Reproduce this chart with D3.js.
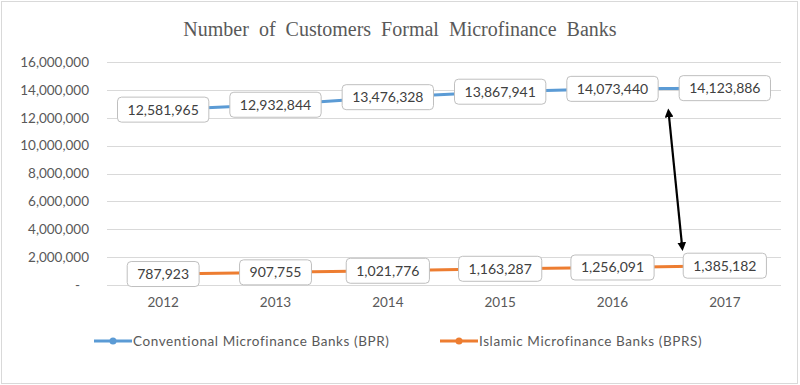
<!DOCTYPE html>
<html>
<head>
<meta charset="utf-8">
<script src="https://cdn.jsdelivr.net/npm/d3@7"></script>
<style>
  body { margin: 0; background: #fff; }
  svg { display: block; }
</style>
</head>
<body>
<div id="chart"></div>
<script>
// data
const years = ["2012", "2013", "2014", "2015", "2016", "2017"];
const bpr = [12581965, 12932844, 13476328, 13867941, 14073440, 14123886];
const bprs = [787923, 907755, 1021776, 1163287, 1256091, 1385182];
const seriesNames = ["Conventional Microfinance Banks (BPR)", "Islamic Microfinance Banks (BPRS)"];
const yTicks = [0, 2000000, 4000000, 6000000, 8000000, 10000000, 12000000, 14000000, 16000000];
// arrow annotation: [offset from start of 2016 band, in bands; value]
const arrowEnds = [[1.0, 12350000], [1.12, 2750000]];

const width = 800, height = 385;
const margin = { top: 62, right: 19, bottom: 100, left: 107 };

const svg = d3.select("#chart").append("svg")
    .attr("width", width)
    .attr("height", height);

// outer border
svg.append("rect")
    .attr("x", 1.5).attr("y", 1.5)
    .attr("width", width - 4).attr("height", height - 3)
    .attr("fill", "#fff")
    .attr("stroke", "#d9d9d9");

const x = d3.scaleBand()
    .domain(years)
    .range([margin.left, width - margin.right]);

const y = d3.scaleLinear()
    .domain([0, 16000000])
    .range([285, margin.top]);

const cx = d => x(d) + x.bandwidth() / 2;

// title
svg.append("text")
    .attr("x", width / 2)
    .attr("y", 36)
    .attr("text-anchor", "middle")
    .attr("font-family", "'Liberation Serif', serif")
    .attr("font-size", "20px")
    .attr("word-spacing", "5px")
    .attr("fill", "#595959")
    .text("Number of Customers Formal Microfinance Banks");

// gridlines
svg.append("g")
    .selectAll("line")
    .data(yTicks)
    .enter()
    .append("line")
    .attr("x1", margin.left)
    .attr("x2", width - margin.right)
    .attr("y1", d => Math.round(y(d)) + 0.5)
    .attr("y2", d => Math.round(y(d)) + 0.5)
    .attr("stroke", "#d9d9d9")
    .attr("stroke-width", 1);

// y axis labels
const fmt = d3.format(",");
const yAxis = svg.append("g")
    .attr("transform", `translate(${margin.left},0)`)
    .call(d3.axisLeft(y).tickValues(yTicks).tickSize(0).tickPadding(18)
        .tickFormat(d => d === 0 ? "-" : fmt(d)));
yAxis.select(".domain").remove();
yAxis.selectAll("text")
    .attr("font-family", "Lato, sans-serif")
    .attr("font-size", "13.5px")
    .attr("fill", "#595959")
    .attr("dx", d => d === 0 ? -9 : 0);

// x axis labels
const xAxis = svg.append("g")
    .attr("transform", `translate(0,285)`)
    .call(d3.axisBottom(x).tickSize(0).tickPadding(12));
xAxis.select(".domain").remove();
xAxis.selectAll("text")
    .attr("font-family", "Lato, sans-serif")
    .attr("font-size", "13.5px")
    .attr("fill", "#595959");

const colors = ["#5b9bd5", "#ed7d31"];
const series = [bpr, bprs];

const line = d3.line()
    .x((d, i) => cx(years[i]))
    .y(d => y(d));

series.forEach((vals, s) => {
    svg.append("path")
        .datum(vals)
        .attr("d", line)
        .attr("fill", "none")
        .attr("stroke", colors[s])
        .attr("stroke-width", 3)
        .attr("stroke-linecap", "round");

    svg.append("g")
        .selectAll("circle")
        .data(vals)
        .enter()
        .append("circle")
        .attr("cx", (d, i) => cx(years[i]))
        .attr("cy", d => y(d))
        .attr("r", 3.5)
        .attr("fill", colors[s]);
});

// data label boxes
series.forEach((vals, s) => {
    const g = svg.append("g")
        .selectAll("g")
        .data(vals)
        .enter()
        .append("g")
        .attr("transform", (d, i) => `translate(${cx(years[i])},${y(d)})`);

    const rects = g.append("rect")
        .attr("fill", "#fff")
        .attr("stroke", "#bfbfbf")
        .attr("stroke-width", 1)
        .attr("rx", 4);

    const texts = g.append("text")
        .attr("text-anchor", "middle")
        .attr("dy", "0.35em")
        .attr("font-family", "Lato, sans-serif")
        .attr("font-size", "14px")
        .attr("fill", "#404040")
        .text(d => fmt(d));

    texts.each(function (d, i) {
        const w = this.getComputedTextLength() + 20;
        d3.select(rects.nodes()[i])
            .attr("x", -w / 2)
            .attr("y", -12.5)
            .attr("width", w)
            .attr("height", 25);
    });
});

// double-headed arrow
const defs = svg.append("defs");
["start", "end"].forEach(k => {
    defs.append("marker")
        .attr("id", "arrow-" + k)
        .attr("viewBox", "0 0 10 10")
        .attr("refX", 5).attr("refY", 5)
        .attr("markerWidth", 4).attr("markerHeight", 4)
        .attr("orient", "auto-start-reverse")
        .append("path")
        .attr("d", "M0,0 L10,5 L0,10 z")
        .attr("fill", "#000");
});
const ax = d => x("2016") + x.bandwidth() * d[0];
svg.append("line")
    .attr("x1", ax(arrowEnds[0])).attr("y1", y(arrowEnds[0][1]))
    .attr("x2", ax(arrowEnds[1])).attr("y2", y(arrowEnds[1][1]))
    .attr("stroke", "#000")
    .attr("stroke-width", 2.2)
    .attr("marker-start", "url(#arrow-start)")
    .attr("marker-end", "url(#arrow-end)");

// legend
const legendX = [94, 440];
const legend = svg.append("g")
    .selectAll("g")
    .data(seriesNames)
    .enter()
    .append("g")
    .attr("transform", (d, i) => `translate(${legendX[i]},341)`);

legend.append("line")
    .attr("x1", 0).attr("x2", 38)
    .attr("stroke", (d, i) => colors[i])
    .attr("stroke-width", 3);
legend.append("circle")
    .attr("cx", 19)
    .attr("r", 3.5)
    .attr("fill", (d, i) => colors[i]);
legend.append("text")
    .attr("x", 39)
    .attr("dy", "0.35em")
    .attr("font-family", "Lato, sans-serif")
    .attr("font-size", "13.5px")
    .attr("letter-spacing", "0.6px")
    .attr("fill", "#595959")
    .text(d => d);
</script>
</body>
</html>
